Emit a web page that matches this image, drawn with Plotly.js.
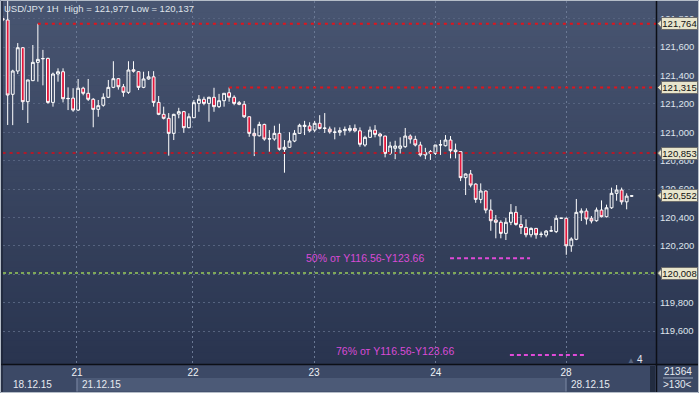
<!DOCTYPE html>
<html><head><meta charset="utf-8">
<script src="https://cdn.plot.ly/plotly-3.0.1.min.js"></script>
<style>html,body{margin:0;padding:0;background:#3b4864;}#chart{width:699px;height:393px;}</style>
</head><body><div id="chart"></div>
<script>
// ---------- data ----------
const chartTitle = 'USD/JPY 1H  High = 121,977 Low = 120,137';
const openP = [121.800,121.790,121.267,121.431,121.595,121.215,121.363,121.492,121.517,121.520,
121.210,121.410,121.426,121.236,121.240,121.156,121.310,121.274,121.232,121.161,
121.190,121.246,121.316,121.377,121.320,121.281,121.440,121.426,121.316,121.375,
121.390,121.210,121.126,121.098,120.992,121.128,121.145,121.032,121.102,121.203,
121.232,121.203,121.246,121.180,121.222,121.278,121.246,121.208,121.197,121.109,
120.992,120.975,121.055,120.952,120.952,120.992,120.880,120.894,120.938,120.992,
121.040,121.044,121.015,121.063,121.027,121.022,120.999,121.000,121.011,121.013,
121.027,121.010,120.910,120.964,121.015,120.987,120.973,120.851,120.887,120.887,
120.898,120.973,120.950,120.910,120.840,120.863,120.851,120.910,120.905,120.945,
120.874,120.863,120.680,120.706,120.635,120.527,120.586,120.452,120.382,120.366,
120.288,120.366,120.436,120.351,120.330,120.278,120.323,120.280,120.276,120.304,
120.300,120.394,120.394,120.200,120.246,120.433,120.445,120.394,120.377,120.452,
120.405,120.468,120.570,120.593,120.510,120.550];
const highP = [121.820,121.977,121.440,121.628,121.600,121.370,121.614,121.764,121.580,121.525,
121.420,121.450,121.450,121.316,121.310,121.375,121.320,121.375,121.240,121.227,
121.274,121.368,121.500,121.380,121.340,121.500,121.500,121.430,121.426,121.430,
121.430,121.255,121.180,121.135,121.130,121.172,121.150,121.133,121.227,121.262,
121.250,121.250,121.313,121.270,121.275,121.315,121.260,121.220,121.220,121.110,
121.027,121.074,121.060,121.015,121.046,121.060,120.945,121.000,121.015,121.060,
121.080,121.070,121.080,121.120,121.135,121.040,121.034,121.034,121.040,121.050,
121.055,121.034,120.975,121.040,121.050,120.996,120.975,120.933,120.940,120.964,
121.030,120.985,120.975,120.933,120.890,120.875,120.910,120.946,120.980,120.973,
120.920,120.865,120.710,120.734,120.640,120.640,120.590,120.527,120.417,120.380,
120.398,120.494,120.480,120.417,120.387,120.330,120.325,120.300,120.311,120.340,
120.416,120.396,120.400,120.260,120.530,120.464,120.464,120.410,120.470,120.520,
120.490,120.610,120.628,120.610,120.570,120.556];
const lowP = [121.780,121.051,121.050,121.410,121.156,121.065,121.360,121.356,121.330,121.200,
121.180,121.356,121.210,121.156,121.144,121.150,121.260,121.220,121.035,121.109,
121.180,121.240,121.310,121.300,121.250,121.270,121.420,121.297,121.310,121.370,
121.180,121.120,121.090,120.835,120.945,121.098,120.996,121.028,121.100,121.144,
121.190,121.074,121.144,121.170,121.180,121.215,121.190,121.190,121.100,120.968,
120.832,120.970,120.940,120.863,120.940,120.870,120.715,120.890,120.930,120.990,
120.980,121.000,121.000,121.020,120.995,120.990,120.950,120.975,120.978,121.000,
121.000,120.898,120.898,120.960,120.964,120.905,120.823,120.840,120.810,120.850,
120.890,120.920,120.900,120.828,120.810,120.805,120.840,120.840,120.900,120.816,
120.816,120.656,120.558,120.612,120.503,120.500,120.429,120.306,120.253,120.253,
120.241,120.346,120.342,120.283,120.260,120.260,120.250,120.260,120.260,120.300,
120.290,120.392,120.137,120.158,120.240,120.375,120.350,120.358,120.370,120.400,
120.400,120.460,120.518,120.490,120.457,120.545];
const closeP = [121.790,121.262,121.431,121.595,121.215,121.368,121.492,121.513,121.519,121.210,
121.410,121.426,121.236,121.238,121.156,121.310,121.274,121.232,121.161,121.187,
121.246,121.316,121.377,121.320,121.281,121.438,121.430,121.316,121.375,121.390,
121.210,121.126,121.098,120.992,121.126,121.145,121.032,121.109,121.208,121.232,
121.203,121.246,121.180,121.222,121.274,121.246,121.203,121.197,121.109,120.992,
120.975,121.055,120.952,120.954,120.992,120.880,120.894,120.938,120.992,121.049,
121.049,121.010,121.063,121.027,121.029,121.003,121.001,121.011,121.020,121.027,
121.010,120.915,120.964,121.015,120.985,120.973,120.851,120.903,120.903,120.903,
120.973,120.952,120.910,120.840,120.856,120.851,120.910,120.912,120.945,120.870,
120.863,120.680,120.706,120.628,120.527,120.586,120.452,120.377,120.366,120.288,
120.366,120.436,120.351,120.330,120.278,120.323,120.278,120.282,120.304,120.306,
120.394,120.395,120.200,120.248,120.436,120.445,120.389,120.375,120.452,120.405,
120.468,120.570,120.593,120.510,120.550,120.552];

const dayLabels = ['21', '22', '23', '24', '28'];
const dayStartIdx = [14.77, 37.82, 61.87, 86.06, 111.95];
const weekLabels = ['18.12.15', '21.12.15', '28.12.15'];
const weekStartIdx = [0.07, 14.77, 111.95];

const yTicks = [119.6, 119.8, 120.0, 120.2, 120.4, 120.6, 120.8, 121.0, 121.2, 121.4, 121.6, 121.8];
const yTicksCovered = [120.0];   // fully hidden behind a price tag in the reference

const redLevels = [121.764, 121.315, 120.853];
const redStartIdx = [7, 45, 0];
const greenLevel = 120.008;
const tagLevels = [121.764, 121.315, 120.853, 120.552, 120.008];

const fibLabels = ['50% от Y116.56-Y123.66', '76% от Y116.56-Y123.66'];
const fibLevels = [120.112, 119.431];
const fibStartIdx = [88.9, 100.8];
const fibEndIdx = [104.8, 116.1];
const fibTextIdx = [84.1, 90.1];

const barCountLabel = '21364';
const scaleLabel = '>130<';
const shiftLabel = '4';

// ---------- layout geometry / styles ----------
const W = 699, H = 393;
const M = {l: 3, r: 43, t: 1, b: 28};
const plotW = W - M.l - M.r, plotH = H - M.t - M.b;
const xRange = [0.07, 129.83];
const yRange = [119.361, 121.924];
const FONT = 'Liberation Sans, Arial, sans-serif';
const px2x = px => (px - M.l) / plotW;
const px2y = py => (M.t + plotH - py) / plotH;
const idx2x = i => (i - xRange[0]) / (xRange[1] - xRange[0]);
const fmt = v => v.toFixed(3).replace('.', ',');

const xIdx = openP.map((_, i) => i);
const yTickText = yTicks.map(v => yTicksCovered.includes(v) ? '' : fmt(v));

const traces = [{
  type: 'candlestick',
  x: xIdx, open: openP, high: highP, low: lowP, close: closeP,
  increasing: {line: {color: '#ffffff', width: 1}, fillcolor: 'rgba(0,0,0,0)'},
  decreasing: {line: {color: '#ffffff', width: 1}, fillcolor: '#e3173c'},
  whiskerwidth: 0,
  hoverinfo: 'skip',
  showlegend: false
}];

const shapes = [];
// background gradient bands (plot + right scale)
const gTop = [0x48, 0x55, 0x71], gBot = [0x29, 0x34, 0x4f];
const NB = 60;
for (let k = 0; k < NB; k++) {
  const t = (k + 0.5) / NB;
  const c = gTop.map((a, j) => Math.round(a + (gBot[j] - a) * t));
  const y0 = 365 * k / NB, y1 = 365 * (k + 1) / NB;
  shapes.push({type: 'rect', xref: 'paper', yref: 'paper', layer: 'below',
    x0: px2x(0), x1: px2x(W), y0: px2y(y0), y1: px2y(y1 + 0.5),
    fillcolor: `rgb(${c[0]},${c[1]},${c[2]})`, line: {width: 0}});
}
// bottom time strip
shapes.push({type: 'rect', xref: 'paper', yref: 'paper', layer: 'below',
  x0: px2x(0), x1: px2x(656), y0: px2y(365), y1: px2y(393), fillcolor: '#3c4966', line: {width: 0}});
shapes.push({type: 'rect', xref: 'paper', yref: 'paper', layer: 'below',
  x0: idx2x(weekStartIdx[1]), x1: idx2x(weekStartIdx[2]), y0: px2y(378), y1: px2y(391.5),
  fillcolor: '#4c5a77', line: {width: 0}});
weekStartIdx.slice(1).forEach(i => shapes.push({type: 'line', xref: 'paper', yref: 'paper', layer: 'below',
  x0: idx2x(i), x1: idx2x(i), y0: px2y(378), y1: px2y(391.5), line: {color: '#7e8ba6', width: 1}}));
shapes.push({type: 'rect', xref: 'paper', yref: 'paper', layer: 'below',
  x0: px2x(650), x1: px2x(655), y0: px2y(366), y1: px2y(392), fillcolor: '#222c40', line: {width: 0}});
// right bottom panel separator
shapes.push({type: 'line', xref: 'paper', yref: 'paper', layer: 'above',
  x0: px2x(663), x1: px2x(693), y0: px2y(378), y1: px2y(378), line: {color: '#9aa6bb', width: 1}});
// red levels
const redCols = ['#e0141c', '#e0141c', '#b01a2a'];
redLevels.forEach((v, k) => shapes.push({type: 'line', xref: 'x', yref: 'y', layer: 'above',
  x0: redStartIdx[k], x1: xRange[1], y0: v, y1: v, line: {color: redCols[k], width: 2, dash: '3px,4px'}}));
// green level
shapes.push({type: 'line', xref: 'paper', yref: 'y', layer: 'above',
  x0: 0, x1: 1, y0: greenLevel, y1: greenLevel, line: {color: '#7fa858', width: 2, dash: '3px,3px'}});
// fib lines
fibLevels.forEach((v, k) => shapes.push({type: 'line', xref: 'x', yref: 'y', layer: 'above',
  x0: fibStartIdx[k], x1: fibEndIdx[k], y0: v, y1: v, line: {color: '#e04ad8', width: 2, dash: '4px,3px'}}));
// tag pointers
tagLevels.forEach(v => shapes.push({type: 'path', xref: 'paper', yref: 'y', layer: 'above',
  xsizemode: 'pixel', ysizemode: 'pixel', xanchor: 1, yanchor: v,
  path: 'M1.5,0L6,4.6L6,-4.6Z', fillcolor: '#e8e5cc', line: {color: '#6b6b6b', width: 1}}));
// separators & frame
shapes.push({type: 'line', xref: 'paper', yref: 'paper', layer: 'above',
  x0: px2x(0), x1: px2x(W), y0: px2y(364.5), y1: px2y(364.5), line: {color: '#0c0f16', width: 1.5}});
shapes.push({type: 'line', xref: 'paper', yref: 'paper', layer: 'above',
  x0: px2x(656.5), x1: px2x(656.5), y0: px2y(0), y1: px2y(H), line: {color: '#0c0f16', width: 1.5}});
shapes.push({type: 'line', xref: 'paper', yref: 'paper', layer: 'above',
  x0: px2x(2), x1: px2x(2), y0: px2y(0), y1: px2y(392), line: {color: '#151b28', width: 1}});
shapes.push({type: 'rect', xref: 'paper', yref: 'paper', layer: 'above',
  x0: px2x(0.5), x1: px2x(698.5), y0: px2y(0.5), y1: px2y(392.5), line: {color: '#b5bdc8', width: 1}, fillcolor: 'rgba(0,0,0,0)'});

const annotations = [];
tagLevels.forEach(v => annotations.push({xref: 'paper', yref: 'y', x: 1, y: v, xanchor: 'left', yanchor: 'middle',
  xshift: 5, text: fmt(v), showarrow: false, bgcolor: '#e8e5cc', bordercolor: '#6b6b6b', borderwidth: 1,
  borderpad: 0, width: 35, align: 'center', font: {family: FONT, size: 9.5, color: '#111111'}}));
fibLabels.forEach((t, k) => annotations.push({xref: 'x', yref: 'y', x: fibTextIdx[k], y: fibLevels[k],
  xanchor: 'right', yanchor: 'middle', yshift: k === 1 ? 4 : 0, text: t, showarrow: false,
  font: {family: FONT, size: 10.5, color: '#d94bd6'}}));
weekLabels.forEach((t, k) => annotations.push({xref: 'paper', yref: 'paper', x: idx2x(weekStartIdx[k]),
  y: px2y(384), xanchor: 'left', yanchor: 'middle', xshift: k === 0 ? 8 : 3, text: t, showarrow: false,
  font: {family: FONT, size: 10, color: '#e6eaf0'}}));
annotations.push({xref: 'paper', yref: 'paper', x: px2x(677.5), y: px2y(371.5), xanchor: 'center', yanchor: 'middle',
  text: barCountLabel, showarrow: false, font: {family: FONT, size: 10, color: '#e6eaf0'}});
annotations.push({xref: 'paper', yref: 'paper', x: px2x(677.5), y: px2y(384.5), xanchor: 'center', yanchor: 'middle',
  text: scaleLabel, showarrow: false, font: {family: FONT, size: 10, color: '#e6eaf0'}});
annotations.push({xref: 'paper', yref: 'paper', x: px2x(630.5), y: px2y(360), xanchor: 'center', yanchor: 'middle',
  text: '▲', showarrow: false, font: {family: FONT, size: 8, color: '#5a6680'}});
annotations.push({xref: 'paper', yref: 'paper', x: px2x(639.5), y: px2y(359.5), xanchor: 'center', yanchor: 'middle',
  text: shiftLabel, showarrow: false, font: {family: FONT, size: 10, color: '#e6eaf0'}});

const layout = {
  width: W, height: H, margin: M,
  paper_bgcolor: '#3b4864', plot_bgcolor: 'rgba(0,0,0,0)',
  separators: ', ',
  boxgap: 0.25, boxgroupgap: 0.25,
  title: {text: chartTitle, x: 4 / W, xanchor: 'left', y: 1 - 8.5 / H, yanchor: 'middle',
    font: {family: FONT, size: 9.5, color: '#dfe3ea'}},
  xaxis: {type: 'linear', range: xRange, tickvals: dayStartIdx, ticktext: dayLabels,
    showgrid: true, gridcolor: '#6a7894', griddash: '2px,3px', gridwidth: 1,
    zeroline: false, showline: false, ticks: '', fixedrange: true,
    tickfont: {family: FONT, size: 10, color: '#eef1f5'},
    rangeslider: {visible: false}},
  yaxis: {side: 'right', range: yRange, tickvals: yTicks, ticktext: yTickText,
    showgrid: true, gridcolor: '#56637f', griddash: '2px,3px', gridwidth: 1,
    zeroline: false, showline: false, ticks: '', ticklabelstandoff: 3, fixedrange: true,
    tickfont: {family: FONT, size: 9.5, color: '#dfe4ec'}},
  shapes: shapes, annotations: annotations,
  hovermode: false, showlegend: false
};

Plotly.newPlot('chart', traces, layout, {displayModeBar: false, staticPlot: true});
</script>
</body></html>
